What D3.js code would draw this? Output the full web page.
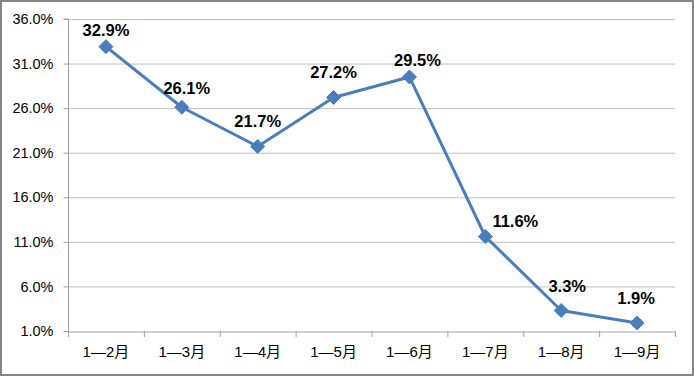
<!DOCTYPE html>
<html><head><meta charset="utf-8">
<script src="https://cdn.jsdelivr.net/npm/d3@7"></script>
<style>body{margin:0;background:#fff}svg{display:block}</style>
</head><body>
<svg id="c" width="694" height="376"></svg>
<script>
const categories = ["1—2月","1—3月","1—4月","1—5月","1—6月","1—7月","1—8月","1—9月"];
const values = [32.9, 26.1, 21.7, 27.2, 29.5, 11.6, 3.3, 1.9];
const yTicks = [1, 6, 11, 16, 21, 26, 31, 36];
// label placement nudges (pixels, layout only)
const labelDx = [0, 5, 0, 0, 8, 30, 6, -1];
const labelDy = [-11, -13, -19, -19, -11, -10, -18, -19];

(function(){
const svg = d3.select("#c");
const W = 694, H = 376;
const pL = 68, pR = 675, pT = 19, pB = 331;

svg.append("rect").attr("x",1).attr("y",1).attr("width",W-2).attr("height",H-2)
  .attr("fill","#fff").attr("stroke","#868686").attr("stroke-width",2);

const x = d3.scaleBand().domain(categories).range([pL, pR]).padding(0);
const y = d3.scaleLinear().domain([1, 36]).range([pB, pT]);

svg.append("g").selectAll("line").data(yTicks.filter(d=>d>1)).join("line")
  .attr("x1",pL).attr("x2",pR).attr("y1",d=>y(d)+0.5).attr("y2",d=>y(d)+0.5)
  .attr("stroke","#bfbfbf").attr("stroke-width",1);

const ya = svg.append("g").attr("transform",`translate(${pL+0.5},0)`)
  .call(d3.axisLeft(y).tickValues(yTicks).tickFormat(d=>d.toFixed(1)+"%").tickSize(5).tickPadding(10));
ya.select(".domain").attr("stroke","#a0a0a0").attr("d",`M-5,${pT}H0V${pB}`);
ya.selectAll(".tick line").attr("stroke","#a0a0a0");
ya.selectAll(".tick text").attr("font-family","'Liberation Sans', Arial, sans-serif").attr("font-size",14.5).attr("fill","#000");

const xa = svg.append("g").attr("transform",`translate(0,${pB+0.5})`)
  .call(d3.axisBottom(x).tickSize(0).tickPadding(15));
xa.select(".domain").attr("stroke","#a0a0a0");
xa.selectAll(".tick text").attr("font-family","'Liberation Sans', 'Noto Sans CJK SC', sans-serif").attr("font-size",15).attr("fill","#000");
svg.append("g").selectAll("line").data(d3.range(categories.length+1)).join("line")
  .attr("x1",i=>pL+i*x.bandwidth()+0.5).attr("x2",i=>pL+i*x.bandwidth()+0.5)
  .attr("y1",pB).attr("y2",pB+6).attr("stroke","#a0a0a0");

const cx = (d,i)=>x(categories[i])+x.bandwidth()/2;

const line = d3.line().x((d,i)=>cx(d,i)).y(d=>y(d));
svg.append("path").datum(values).attr("d",line).attr("fill","none")
  .attr("stroke","#4a7ebb").attr("stroke-width",3).attr("stroke-linejoin","round");

svg.append("g").selectAll("path").data(values).join("path")
  .attr("transform",(d,i)=>`translate(${cx(d,i)},${y(d)})`)
  .attr("d","M0,-7L7,0L0,7L-7,0Z").attr("fill","#4a7ebb").attr("stroke","#4a7ebb").attr("stroke-width",1);

svg.append("g").selectAll("text").data(values).join("text")
  .attr("x",(d,i)=>cx(d,i)+labelDx[i]).attr("y",(d,i)=>y(d)+labelDy[i])
  .attr("text-anchor","middle").attr("font-family","'Liberation Sans', Arial, sans-serif")
  .attr("font-weight","bold").attr("font-size",16.5).attr("fill","#000")
  .text(d=>d.toFixed(1)+"%");
})();
</script>
</body></html>
